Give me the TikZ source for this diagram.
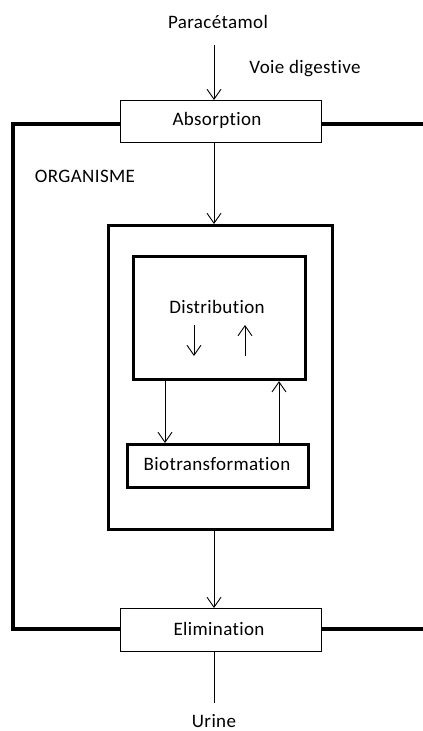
\documentclass[tikz,border=0pt]{standalone}
\usepackage{fontspec}
\setmainfont{Carlito}[Ligatures={NoCommon,NoDiscretionary,NoRare},LetterSpace=2]
\usetikzlibrary{arrows.meta}
\begin{document}
\begin{tikzpicture}[x=1pt,y=-1pt,
  font=\fontsize{19}{22}\selectfont,
  thinbox/.style={draw,line width=1pt,inner sep=0pt,anchor=north west},
  thickbox/.style={draw,line width=3.2pt,inner sep=0pt,anchor=north west},
  lbl/.style={inner sep=0pt,anchor=center},
  arr/.style={line width=0.9pt,-{Straight Barb[length=10pt,width=14pt,line width=0.9pt]}},
  plain/.style={line width=0.9pt},
  wall/.style={line width=3.5pt}
]
\useasboundingbox (0,0) rectangle (423,731);
% boxes
\node[thinbox,minimum width=201pt,minimum height=42pt] (abs) at (120,100) {};
\node[lbl] (abst) at (217,120) {Absorption};
\node[thinbox,minimum width=201pt,minimum height=43pt] (eli) at (120,608) {};
\node[lbl] (elit) at (219,629) {Elimination};
\node[thickbox,minimum width=224pt,minimum height=304pt] (org) at (107,224) {};
\node[thickbox,minimum width=172pt,minimum height=123pt] (dis) at (132,255) {};
\node[lbl] (dist) at (217,307) {Distribution};
\node[thickbox,minimum width=181pt,minimum height=43pt] (bio) at (126,443) {};
\node[lbl] (biot) at (217,464) {Biotransformation};
% labels
\node[lbl] (para) at (218,22) {Paracétamol};
\node[lbl] (voie) at (305,69) {Voie digestive};
\node[lbl] (orga) at (85,176) {ORGANISME};
\node[lbl] (uri) at (214,721) {Urine};
% coordinates
\coordinate (p0) at (214,45);
\coordinate (u0) at (214,703);
\coordinate (wl1) at (13,124);
\coordinate (wl2) at (13,629);
\coordinate (wr1) at (423,124);
\coordinate (wr2) at (423,629);
\coordinate (da1) at (194,325);
\coordinate (da2) at (194,356);
\coordinate (ua1) at (245,356);
\coordinate (ua2) at (245,325);
% walls
\draw[wall] (abs.west |- wl1) -- (wl1) -- (wl2) -- (eli.west |- wl2);
\draw[wall] (abs.east |- wr1) -- (wr1);
\draw[wall] (eli.east |- wr2) -- (wr2);
% arrows
\draw[arr] (p0) -- (p0 |- abs.north);
\draw[arr] (abs.south -| p0) -- (p0 |- org.north);
\draw[arr] (org.south -| p0) -- (p0 |- eli.north);
\draw[plain] (eli.south -| u0) -- (u0);
\draw[arr] (dis.south -| 165,0) -- (165,0 |- bio.north);
\draw[arr] (bio.north -| 279,0) -- (279,0 |- dis.south);
\draw[arr] (da1) -- (da2);
\draw[arr] (ua1) -- (ua2);
\end{tikzpicture}
\end{document}
